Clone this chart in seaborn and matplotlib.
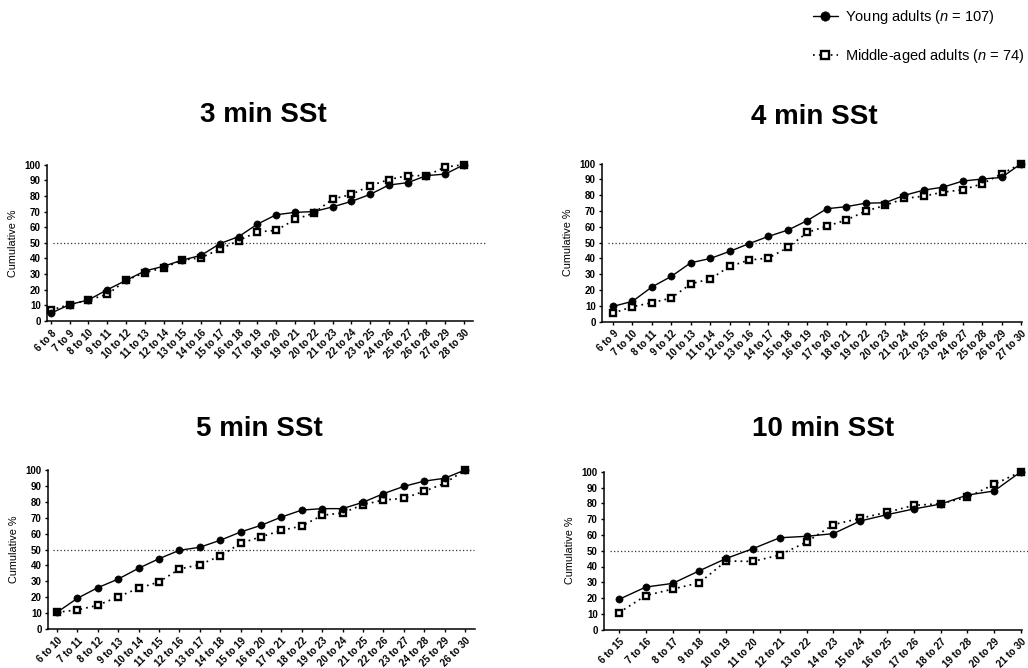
import matplotlib
matplotlib.use("Agg")
import matplotlib.pyplot as plt
import seaborn as sns
import numpy as np

# ---------------- data ----------------
labels_3 = [f"{a} to {a + 2}" for a in range(6, 29)]
young_3 = [5, 10.5, 13.5, 20, 26, 32, 35, 39, 42, 49.5, 54, 62, 68, 69.5, 70, 73,
           76.5, 81, 87, 88.5, 93, 94, 100]
middle_3 = [7, 10.5, 13.5, 17, 26, 31, 34, 39, 40.5, 46, 51.5, 57, 58, 65, 69, 78,
            81, 86.5, 90.5, 93, 93, 98.5, 100]

labels_4 = [f"{a} to {a + 3}" for a in range(6, 28)]
young_4 = [9.7, 12.9, 22, 28.7, 37.3, 40, 44.5, 49.4, 54, 58, 64, 71.5, 72.8, 75,
           75.3, 80, 83.3, 85.2, 89, 90.3, 91.3, 100]
middle_4 = [5.5, 9.5, 12, 15, 24, 27, 35, 39, 40.3, 47, 56.5, 60.5, 64.3, 70, 73.6,
            78, 79.5, 82, 83.5, 87.3, 93.5, 100]

labels_5 = [f"{a} to {a + 4}" for a in range(6, 27)]
young_5 = [10.5, 19.3, 26, 31.4, 38.2, 44.2, 49.5, 51.4, 55.8, 61, 65.2, 70.4, 74.8,
           75.7, 75.7, 79.7, 85.1, 89.7, 93, 94.8, 100]
middle_5 = [10.5, 12, 14.9, 20.3, 25.6, 29.6, 37.7, 40.5, 45.9, 53.9, 58, 62, 64.8,
            71.5, 73, 78.2, 81.1, 82.2, 86.6, 91.6, 100]

labels_10 = [f"{a} to {a + 9}" for a in range(6, 22)]
young_10 = [19.2, 27, 29.3, 37.3, 45.1, 51.3, 58.2, 59.1, 60.8, 68.8, 72.8, 76.4,
            79.5, 85.2, 87.8, 100]
middle_10 = [10.8, 21.6, 25.7, 29.7, 43.5, 43.2, 47.3, 55.5, 66.5, 70.5, 74.3, 78.7,
             79.7, 83.8, 92, 100]

titles = ["3 min SSt", "4 min SSt", "5 min SSt", "10 min SSt"]
y_ticks = list(range(0, 101, 10))
young_label = "Young adults ($\\mathit{n}$ = 107)"
middle_label = "Middle-aged adults ($\\mathit{n}$ = 74)"

# ---------------- style ----------------
sns.set_theme(style="ticks")
plt.rcParams["font.family"] = ["Liberation Sans", "DejaVu Sans"]
plt.rcParams["mathtext.fontset"] = "custom"
plt.rcParams["mathtext.rm"] = "Liberation Sans"
plt.rcParams["mathtext.it"] = "Liberation Sans:italic"
plt.rcParams["text.color"] = "black"
plt.rcParams["axes.labelcolor"] = "black"
plt.rcParams["xtick.color"] = "black"
plt.rcParams["ytick.color"] = "black"

W, H = 1028, 668
fig = plt.figure(figsize=(W / 100, H / 100), dpi=100)


def px_axes(left, right, top, bottom):
    return fig.add_axes([left / W, 1 - bottom / H, (right - left) / W, (bottom - top) / H])


panels = [
    dict(labels=labels_3, young=young_3, middle=middle_3, box=(47, 473, 164.7, 321),
         xlim=(-0.21, 22.48), ref=(0.1, 23.1), title_xy=(263.7, 122.5)),
    dict(labels=labels_4, young=young_4, middle=middle_4, box=(602, 1022, 163.7, 321.7),
         xlim=(-0.57, 21.05), ref=(-0.27, 21.4), title_xy=(814.5, 124.5)),
    dict(labels=labels_5, young=young_5, middle=middle_5, box=(48, 475, 470, 629),
         xlim=(-0.44, 20.49), ref=(-0.2, 20.44), title_xy=(259.7, 436)),
    dict(labels=labels_10, young=young_10, middle=middle_10, box=(604, 1022, 471.7, 629.7),
         xlim=(-0.56, 15.04), ref=(-0.34, 15.3), title_xy=(823, 436)),
]

handles = None
for p, title in zip(panels, titles):
    ax = px_axes(*p["box"])
    x = np.arange(len(p["labels"]))
    # reference line at 50 %
    ax.plot(list(p["ref"]), [50, 50], color="#333333", lw=0.9,
            linestyle=(0, (1, 1.8)), clip_on=False, zorder=1)
    sns.lineplot(x=x, y=p["middle"], ax=ax, color="black", lw=1.25,
                 linestyle=(0, (1, 2.4)), marker="s", markersize=4.9,
                 markerfacecolor="white", markeredgecolor="black",
                 markeredgewidth=1.7, clip_on=False, zorder=2)
    sns.lineplot(x=x, y=p["young"], ax=ax, color="black", lw=1.0,
                 linestyle="-", marker="o", markersize=5.2,
                 markerfacecolor="black", markeredgecolor="black",
                 markeredgewidth=0.4, clip_on=False, zorder=3)
    ax.set_xlim(*p["xlim"])
    ax.set_ylim(0, 100)
    ax.set_yticks(y_ticks)
    ax.set_yticklabels([str(v) for v in y_ticks], fontsize=7, fontweight="bold")
    ax.set_xticks(x)
    ax.set_xticklabels(p["labels"], rotation=45, ha="right", rotation_mode="anchor",
                       fontsize=7, fontweight="bold")
    ax.set_ylabel("Cumulative %", fontsize=7.8, labelpad=5)
    ax.set_xlabel("")
    for side in ("top", "right"):
        ax.spines[side].set_visible(False)
    for side in ("left", "bottom"):
        ax.spines[side].set_linewidth(1.1)
        ax.spines[side].set_color("black")
    ax.tick_params(axis="both", direction="out", length=2.5, width=1.0,
                   color="black", pad=2, labelcolor="black")
    ax.tick_params(axis="x", pad=2.5)
    ax.grid(False)
    tx, ty = p["title_xy"]
    fig.text(tx / W, 1 - ty / H, title, ha="center", va="baseline",
             fontsize=20, fontweight="bold", color="black")
    if handles is None:
        lines = ax.get_lines()
        handles = [lines[2], lines[1]]

fig.legend(handles, [young_label, middle_label], loc="upper right",
           bbox_to_anchor=(1025 / W, 1 - 8 / H), frameon=False, fontsize=10.5,
           borderpad=0, borderaxespad=0, handlelength=1.75, handletextpad=0.5,
           labelspacing=1.45, numpoints=1, markerscale=1.3, labelcolor="black")

fig.savefig("out.png", dpi=100, facecolor="white")
